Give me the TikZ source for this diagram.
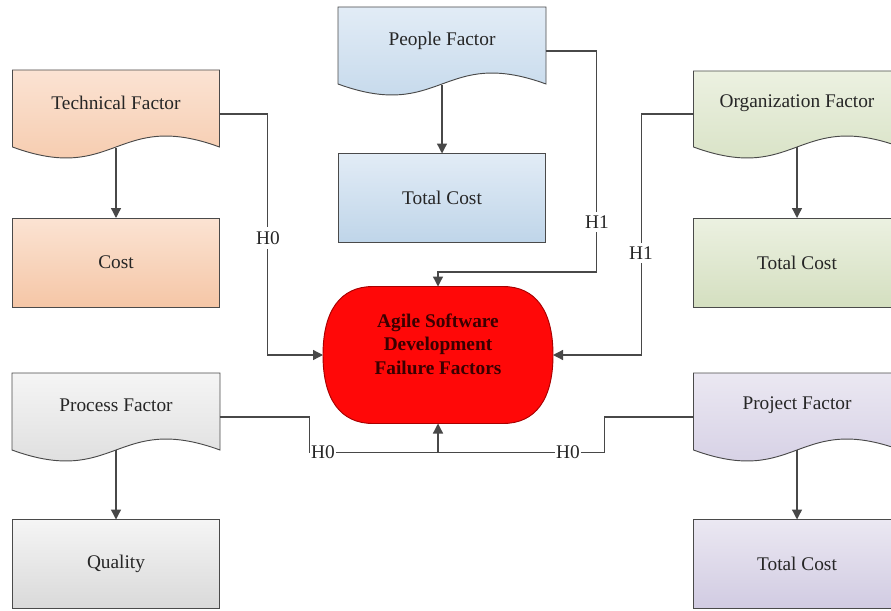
\documentclass[tikz,border=0pt]{standalone}
\usepackage{fontspec}
\setmainfont{Liberation Serif}
\usetikzlibrary{calc,arrows.meta}

% fills of the five factor groups (lighter top, darker bottom)
\definecolor{techtop}{HTML}{FBE3D3}
\definecolor{techbot}{HTML}{F5C6A6}
\definecolor{peoptop}{HTML}{E2ECF6}
\definecolor{peopbot}{HTML}{BFD5E9}
\definecolor{orgtop}{HTML}{ECF1E1}
\definecolor{orgbot}{HTML}{D4DFC0}
\definecolor{proctop}{HTML}{F5F5F5}
\definecolor{procbot}{HTML}{D9D9D9}
\definecolor{projtop}{HTML}{EBE8F2}
\definecolor{projbot}{HTML}{D1CBE2}
\definecolor{edgegrey}{HTML}{4A4A4A}
\definecolor{linegrey}{HTML}{484848}
\definecolor{textgrey}{HTML}{262626}
\definecolor{agilered}{HTML}{FF0808}
\definecolor{agileedge}{HTML}{A80000}
\definecolor{agiletext}{HTML}{3A0000}

\tikzset{
  px/.style={x=0.75pt,y=-0.75pt},
  outline/.style={draw=edgegrey,line width=0.7pt},
  docpath/.style 2 args={outline,top color=#1,bottom color=#2},
  labelfont/.style={font=\fontsize{14.5}{17}\selectfont,text=textgrey},
  boxnode/.style 2 args={outline,top color=#1,bottom color=#2,
    minimum width=155.25pt,minimum height=66.75pt,
    inner sep=0pt,outer sep=0pt,labelfont},
  factortext/.style={minimum width=155.25pt,inner sep=0pt,outer sep=0pt,labelfont},
  link/.style={draw=linegrey,line width=1pt},
  arr/.style={link,-{Triangle[length=7.5pt,width=7.5pt]}},
  hyp/.style={fill=white,inner xsep=1pt,inner ysep=3pt,labelfont},
  agilebox/.style={minimum width=172.5pt,minimum height=102.75pt,
    inner sep=0pt,outer sep=0pt},
  agileshape/.style={draw=agileedge,line width=0.7pt,fill=agilered},
  agilelabel/.style={align=center,text=agiletext,
    font=\bfseries\fontsize{14.5}{17.6}\selectfont},
}

\begin{document}
\begin{tikzpicture}[px]
\useasboundingbox (0,0) rectangle (891,610);
\clip (0,0) rectangle (891,610);

% document-shaped factor headers
\path[docpath={techtop}{techbot}] (12.5,70) -- (219.5,70) -- (219.5,147)
  .. controls (116,109) and (116,185) .. (12.5,147) -- cycle;
\path[docpath={peoptop}{peopbot}] (338,7) -- (546,7) -- (546,84)
  .. controls (442,46) and (442,122) .. (338,84) -- cycle;
\path[docpath={orgtop}{orgbot}] (693.5,71) -- (900.5,71) -- (900.5,147)
  .. controls (797,109) and (797,185) .. (693.5,147) -- cycle;
\path[docpath={proctop}{procbot}] (12,373) -- (220,373) -- (220,450)
  .. controls (116,412) and (116,488) .. (12,450) -- cycle;
\path[docpath={projtop}{projbot}] (693.5,373) -- (900.5,373) -- (900.5,450)
  .. controls (797,412) and (797,488) .. (693.5,450) -- cycle;

\node[factortext] (techF) at (116,103) {Technical Factor};
\node[factortext] (peopF) at (442,41) {People Factor};
\node[factortext] (orgF)  at (797,103) {Organization Factor};
\node[factortext] (procF) at (116,405) {Process Factor};
\node[factortext] (projF) at (797,405) {Project Factor};

% measured outcomes
\node[boxnode={techtop}{techbot}] (cost)     at (116,262.5) {Cost};
\node[boxnode={peoptop}{peopbot}] (peopCost) at (442,198) {Total Cost};
\node[boxnode={orgtop}{orgbot}]   (orgCost)  at (797,262.5) {Total Cost};
\node[boxnode={proctop}{procbot}] (quality)  at (116,564) {Quality};
\node[boxnode={projtop}{projbot}] (projCost) at (797,564) {Total Cost};

\draw[arr] ($(techF.center)+(0,45)$) -- (cost);
\draw[arr] ($(peopF.center)+(0,44)$) -- (peopCost);
\draw[arr] ($(orgF.center)+(0,44)$) -- (orgCost);
\draw[arr] ($(procF.center)+(0,45)$) -- (quality);
\draw[arr] ($(projF.center)+(0,45)$) -- (projCost);

% central outcome: a box with rounded, slightly squared ends
\node[agilebox] (agile) at (438,355) {};
\path[agileshape] ($(agile.north west)+(50,0)$) -- ($(agile.north east)+(-50,0)$)
  .. controls ($(agile.north east)+(-17.5,0)$) and ($(agile.east)+(0,-44.5)$) .. (agile.east)
  .. controls ($(agile.east)+(0,44.5)$) and ($(agile.south east)+(-17.5,0)$) .. ($(agile.south east)+(-50,0)$)
  -- ($(agile.south west)+(50,0)$)
  .. controls ($(agile.south west)+(17.5,0)$) and ($(agile.west)+(0,44.5)$) .. (agile.west)
  .. controls ($(agile.west)+(0,-44.5)$) and ($(agile.north west)+(17.5,0)$) .. ($(agile.north west)+(50,0)$)
  -- cycle;
\node[agilelabel] (agileT) at (438,344) {Agile Software\\Development\\Failure Factors};

% hypothesis links
\coordinate (join) at ($(agile.south)+(0,29)$);
\draw[arr] ($(techF.east)+(0,11)$) -- ++(48,0) |- (agile.west);
\draw[arr] ($(peopF.east)+(0,10)$) -- ++(51,0) -- ++(0,221) -| (agile.north);
\draw[arr] ($(orgF.west)+(0,11)$) -- ++(-52,0) |- (agile.east);
\draw[link] ($(procF.east)+(0,12)$) -- ++(90,0) |- (join);
\draw[link] ($(projF.west)+(0,12)$) -- ++(-89,0) |- (join);
\draw[arr] (join) -- (agile.south);

\node[hyp] (h0a) at (268,238) {H0};
\node[hyp] (h1a) at (597,222) {H1};
\node[hyp] (h1b) at (641,253) {H1};
\node[hyp] (h0b) at (323,452.5) {H0};
\node[hyp] (h0c) at (568,452.5) {H0};
\end{tikzpicture}
\end{document}
